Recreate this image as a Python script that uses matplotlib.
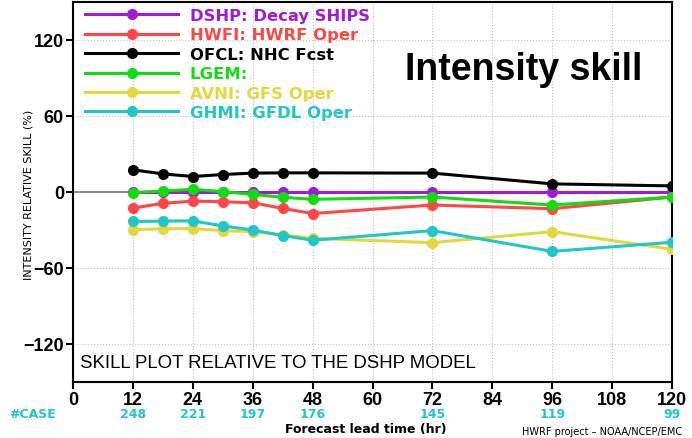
import numpy as np
import matplotlib
matplotlib.use("Agg")
import matplotlib.pyplot as plt
import matplotlib.transforms as mtransforms

hours = [12, 18, 24, 30, 36, 42, 48, 72, 96, 120]
dshp = [0, 0, 0, 0, 0, 0, 0, 0, 0, 0]
hwfi = [-12.7, -9.0, -7.2, -7.7, -8.5, -13.0, -17.0, -10.3, -13.2, -4.0]
ofcl = [17.5, 14.3, 12.2, 13.8, 14.9, 15.1, 15.1, 14.9, 6.4, 4.8]
lgem = [-0.5, 0.8, 2.1, 0.3, -1.9, -4.2, -5.8, -4.0, -10.3, -4.0]
avni = [-29.7, -29.1, -28.9, -30.5, -31.3, -33.9, -36.6, -40.0, -31.3, -45.3]
ghmi = [-23.3, -23.0, -22.8, -26.8, -30.0, -34.4, -38.1, -30.5, -46.9, -39.7]

case_hours = [12, 24, 36, 48, 72, 96, 120]
case_counts = [248, 221, 197, 176, 145, 119, 99]

series = [
    ("DSHP: Decay SHIPS", dshp, "#a21ad6"),
    ("HWFI: HWRF Oper", hwfi, "#ff4545"),
    ("OFCL: NHC Fcst", ofcl, "#000000"),
    ("LGEM:", lgem, "#10dd10"),
    ("AVNI: GFS Oper", avni, "#e3d83a"),
    ("GHMI: GFDL Oper", ghmi, "#20c6c8"),
]

fig = plt.figure(figsize=(6.92, 4.39), dpi=100)
ax = fig.add_axes([0.1055, 0.1276, 0.8656, 0.8656])

ax.axhline(0, color="#777777", lw=1.2, zorder=2)
for label, vals, col in series:
    ax.plot(hours, vals, color=col, lw=2.2, marker="o", ms=7, label=label, zorder=3)

ax.set_xlim(0, 120)
ax.set_ylim(-150, 150)
ax.set_xticks(np.arange(0, 121, 12))
ax.set_yticks([-120, -60, 0, 60, 120])
ax.set_yticklabels(["\u2212120", "\u221260", "0", "60", "120"])
ax.grid(True, ls=":", color="#c0c0c0", lw=0.8)
ax.tick_params(width=1.5, length=5, pad=1.5)
for t in ax.get_xticklabels() + ax.get_yticklabels():
    t.set_fontweight("bold")
    t.set_family("Liberation Sans")
    t.set_fontsize(13)
for s in ax.spines.values():
    s.set_linewidth(1.5)

fig.text(29 / 692, 1 - 195 / 439, "INTENSITY RELATIVE SKILL (%)", rotation=90,
         ha="center", va="center", fontsize=8)
fig.text(366 / 692, 1 - 430 / 439, "Forecast lead time (hr)", ha="center", va="center",
         fontsize=9, fontweight="bold")

leg = ax.legend(loc="upper left", bbox_to_anchor=(12 / 599, 1 - 6 / 380), frameon=False,
                handlelength=5.7, handletextpad=0.7, labelspacing=0.27, borderpad=0,
                borderaxespad=0, prop={"size": 11.8, "weight": "bold"},
                labelcolor="linecolor")

ax.text((405 - 73) / 599, (383 - 70) / 380, "Intensity skill", transform=ax.transAxes,
        fontsize=27, fontweight="bold", family="Liberation Sans", va="center")
ax.text((80 - 73) / 599, (383 - 364) / 380, "SKILL PLOT RELATIVE TO THE DSHP MODEL",
        transform=ax.transAxes, fontsize=13.4, family="Liberation Sans", va="center")

trans = mtransforms.blended_transform_factory(ax.transData, ax.transAxes)
for h, c in zip(case_hours, case_counts):
    ax.text(h, -(415 - 383) / 380, str(c), transform=trans, ha="center", va="center",
            color="#20c6c8", fontsize=9, fontweight="bold")
fig.text(33 / 692, 1 - 415 / 439, "#CASE", color="#20c6c8", fontsize=9, fontweight="bold",
         ha="center", va="center")
fig.text(522 / 692, 1 - 432 / 439, "HWRF project \u2013 NOAA/NCEP/EMC", fontsize=7,
         ha="left", va="center")

fig.savefig("out.png", dpi=100)
